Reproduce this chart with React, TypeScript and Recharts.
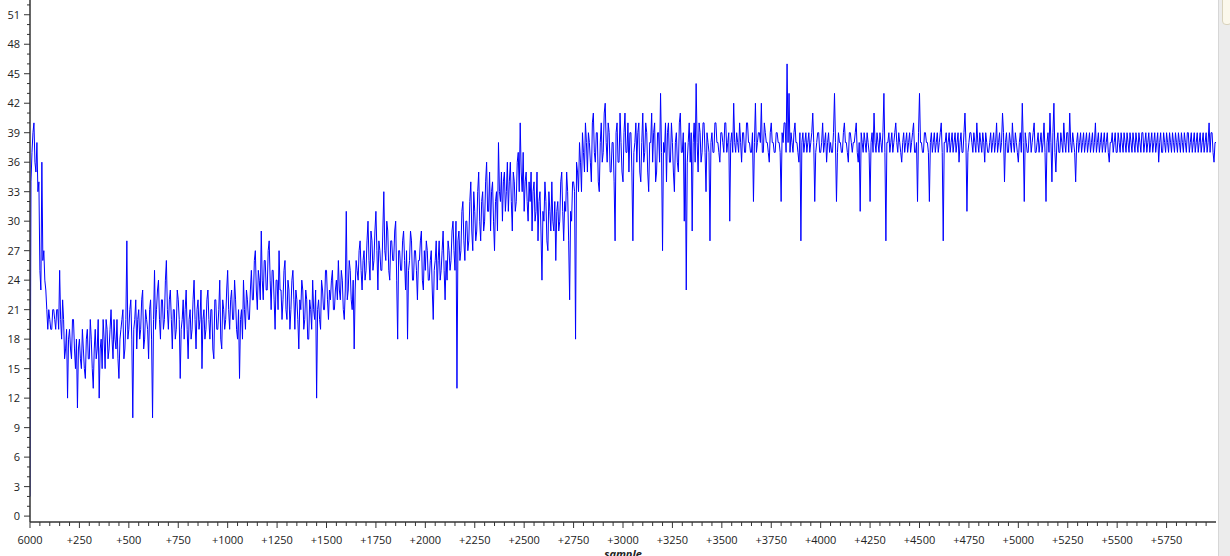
import React from 'react';
import { LineChart, Line, XAxis, YAxis } from 'recharts';

// Signal readings, one every 5 samples
const seg0 = [2,34,37,39,40,36,35,38,33,34,25,23,36,26,27,24,23,21,19,21,20,19,19,21,21,20,19,21,21,19,25,20,18,22,20,16,17,19,12,18,19,17,16,20,20,17,15,18,11,17,18,16,15,19,17,15,14,18,19,16,16,20,18,15,13,17,19,16,17,20,12,17,18,15,20,18,15,20,19,16,17,19,21,18,16,20,18,17,20,16,14,18,19,20,21,16,17,20,28,18,19,21];
const seg1 = [22,18,10,19,20,22,17,20,21,18,19,22,23,17,18,21,20,19,16,21,22,18,10,20,25,19,21,23,24,20,18,22,22,19,20,24,26,21,19,22,23,20,17,21,21,18,19,23,22,20,14,19,20,22,18,21,23,19,16,20,21,18,19,22,24,20,17,21,22,19,20,23,15,20,21,18,19,22,23,20,18,21,21,17,16,22,22,19,19,21,24,18,17,22,21,19,20,23,25,21];
const seg2 = [19,22,23,20,20,24,22,19,18,21,14,20,21,18,24,21,19,23,22,20,20,23,25,22,22,26,27,23,21,25,24,22,29,24,22,26,26,23,23,27,28,24,21,25,25,22,19,24,24,21,27,23,23,20,22,25,26,21,20,24,23,19,21,24,25,22,19,23,22,20,17,22,21,24,23,19,20,23,22,18,18,22,21,19,24,21,20,23,12,21,22,20,19,24,23,21,21,25,25,22,20,23];
const seg3 = [22,24,25,21,21,23,24,22,26,23,22,25,24,21,20,23,31,22,23,26,25,22,21,24,17,23,26,25,24,27,28,25,23,26,27,24,25,28,30,26,24,29,28,25,26,29,31,27,23,28,27,25,25,29,33,27,26,30,29,25,24,28,28,26,26,29,30,24,18,27,27,25,25,28,29,26,23,27,18,25,26,29,28,24,24,27,27,25,22,26,26,28,29,24,23,27,25,28,27,24];
const seg4 = [24,26,27,23,20,25,26,28,23,26,28,24,25,27,29,25,22,26,24,28,27,25,26,29,30,27,25,30,13,28,29,26,27,31,32,28,26,30,30,27,28,32,34,29,27,33,31,28,29,33,35,30,28,32,33,29,30,34,36,31,31,35,29,33,34,30,27,32,33,29,38,33,32,35,30,34,35,31,33,36,31,34,36,32,29,35,34,31,32,36,37,33,40,35,33,37,31,34,35,32,30,34];
const seg5 = [32,35,29,33,34,30,31,35,28,32,33,29,24,31,30,34,32,28,27,33,31,29,34,30,29,32,26,31,32,29,30,34,35,31,28,32,31,35,33,28,22,31,30,34,34,33,18,36,35,33,38,36,33,39,37,35,40,38,35,39,38,36,34,40,41,37,36,39,39,34,33,38,40,36,37,41,42,38,36,40,39,35,35,38,38,34,28,39,40,36,36,41,38,35,34,39,41,37,37,40,35,39];
const seg6 = [39,35,28,37,38,40,36,39,40,35,34,38,41,36,37,40,39,35,33,38,38,41,36,39,40,34,35,39,39,36,43,37,27,38,37,40,34,39,40,36,36,40,38,35,33,38,39,36,35,40,41,37,37,39,30,38,23,36,38,40,36,39,29,38,40,36,44,38,35,40,39,36,37,40,40,37,33,39,38,37,28,38,39,37,37,40,40,38,38,37,36,39,39,38,37,40,40,37,38,39];
const seg7 = [30,38,39,37,42,38,37,39,38,37,40,38,36,39,39,37,37,40,40,38,38,37,37,39,32,38,42,37,38,39,39,38,42,37,37,40,39,38,38,37,36,39,40,38,38,37,37,39,39,38,38,37,32,39,38,40,40,37,46,38,43,37,39,38,37,39,40,38,38,37,36,39,28,38,39,37,38,39,37,38,39,37,38,39,41,38,32,37,38,39,39,37,37,38,40,37,38,39,36,38,39,37];
const seg8 = [38,37,37,39,43,38,32,37,39,38,38,37,37,39,40,38,38,37,36,39,39,38,37,38,38,39,40,37,36,38,31,39,38,37,39,38,37,39,38,37,32,38,39,37,41,38,37,39,38,37,39,38,37,39,43,37,28,38,38,39,37,38,39,37,38,39,40,38,37,39,38,37,36,38,39,37,38,39,37,38,39,37,38,39,40,37,37,38,32,39,43,38,38,37,37,39,39,38,38,37];
const seg9 = [32,38,39,37,38,39,37,38,39,37,38,39,40,37,28,38,38,39,37,38,39,37,38,39,37,38,39,37,38,39,36,38,39,37,37,39,41,38,31,37,38,39,39,38,37,39,38,37,40,38,37,39,38,37,39,38,36,39,38,37,37,38,39,37,38,39,37,38,40,37,38,39,37,38,41,39,34,38,39,37,37,39,38,37,40,38,37,39,38,37,36,38,39,37,42,38,32,39,38,37,37,39];
const seg10 = [39,37,38,39,40,37,37,38,39,37,38,39,37,38,40,37,32,38,39,37,41,38,34,39,42,37,35,38,39,37,37,39,38,37,40,38,37,39,39,37,41,38,37,39,38,37,34,38,39,37,38,39,37,38,39,37,38,39,37,38,39,37,38,39,37,38,40,37,38,39,37,38,39,37,38,39,37,38,39,37,36,38,38,39,37,38,39,37,37,39,38,37,39,38,37,39,38,37,39,38,37,39];
const seg11 = [38,37,39,38,37,39,38,37,39,38,37,39,39,37,38,39,37,38,39,37,38,39,37,38,39,37,38,39,36,38,39,37,37,39,38,37,39,38,37,39,38,37,39,38,37,39,38,37,39,38,37,39,38,37,39,38,37,39,39,37,38,39,37,38,39,37,38,39,37,38,39,37,38,39,37,38,39,37,38,40,37,39,39,37,36,38,38];

const SAMPLE_STEP = 5;
const xTicks: number[] = [];
for (let t = 0; t < 6000; t += 50) xTicks.push(t);
const yTicks: number[] = [];
for (let t = 0; t <= 52; t += 1) yTicks.push(t);

const values = [seg0, seg1, seg2, seg3, seg4, seg5, seg6, seg7, seg8, seg9, seg10, seg11].flat();
const data = values.map((v, i) => ({ sample: i * SAMPLE_STEP, value: v }));

const FONT = "'Open Sans', 'Noto Sans', sans-serif";
const AXIS_X = 30;
const AXIS_Y = 522;

const YTick = (props: any) => {
  const { y, payload } = props;
  const v = payload.value as number;
  const major = v % 3 === 0;
  return (
    <g>
      <line x1={major ? AXIS_X - 6 : AXIS_X - 3} x2={AXIS_X} y1={y} y2={y} stroke="#333" strokeWidth={1} />
      {major && (
        <text x={20} y={y} dy={4} textAnchor="end" fontSize={11} fill="#222" fontFamily={FONT}>
          {v}
        </text>
      )}
    </g>
  );
};

const XTick = (props: any) => {
  const { x, payload } = props;
  const v = payload.value as number;
  const major = v % 250 === 0;
  return (
    <g>
      <line x1={x} x2={x} y1={AXIS_Y} y2={major ? AXIS_Y + 6 : AXIS_Y + 4} stroke="#333" strokeWidth={1} />
      {major && (
        <text x={x} y={544} textAnchor="middle" fontSize={11} fill="#222" fontFamily={FONT}>
          {v === 0 ? '6000' : '+' + v}
        </text>
      )}
    </g>
  );
};

export default function App() {
  return (
    <div style={{ position: 'absolute', left: 0, top: 0, width: 1230, height: 556, background: '#fff', overflow: 'hidden' }}>
      <LineChart width={1230} height={556} data={data} margin={{ top: 0, right: 14, left: 0, bottom: 0 }}>
        <XAxis
          dataKey="sample"
          type="number"
          domain={[0, 6000]}
          ticks={xTicks}
          interval={0}
          height={34}
          tick={<XTick />}
          tickLine={false}
          axisLine={{ stroke: '#333', strokeWidth: 1.5 }}
          allowDataOverflow
        />
        <YAxis
          type="number"
          domain={[-0.6, 52.5]}
          ticks={yTicks}
          interval={0}
          width={30}
          tick={<YTick />}
          tickLine={false}
          axisLine={{ stroke: '#333', strokeWidth: 1.5 }}
          allowDataOverflow
        />
        <Line
          type="linear"
          dataKey="value"
          stroke="#0000ff"
          strokeWidth={1}
          dot={false}
          isAnimationActive={false}
        />
      </LineChart>
      <svg width={1230} height={556} style={{ position: 'absolute', left: 0, top: 0, pointerEvents: 'none' }}>
        <text x={623} y={558} textAnchor="middle" fontSize={11} fontStyle="italic" fontWeight="bold" fill="#222" fontFamily={FONT}>
          sample
        </text>
      </svg>
      <div style={{ position: 'absolute', left: 1218, top: 0, width: 12, height: 556, background: '#ececec', borderLeft: '1px solid #d6d6d6', boxSizing: 'border-box' }} />
      <div style={{ position: 'absolute', left: 1222, top: -6, width: 10, height: 31, background: '#fbf8ec', border: '1px solid #d8d2bc', borderRadius: 4, boxSizing: 'border-box' }} />
    </div>
  );
}
